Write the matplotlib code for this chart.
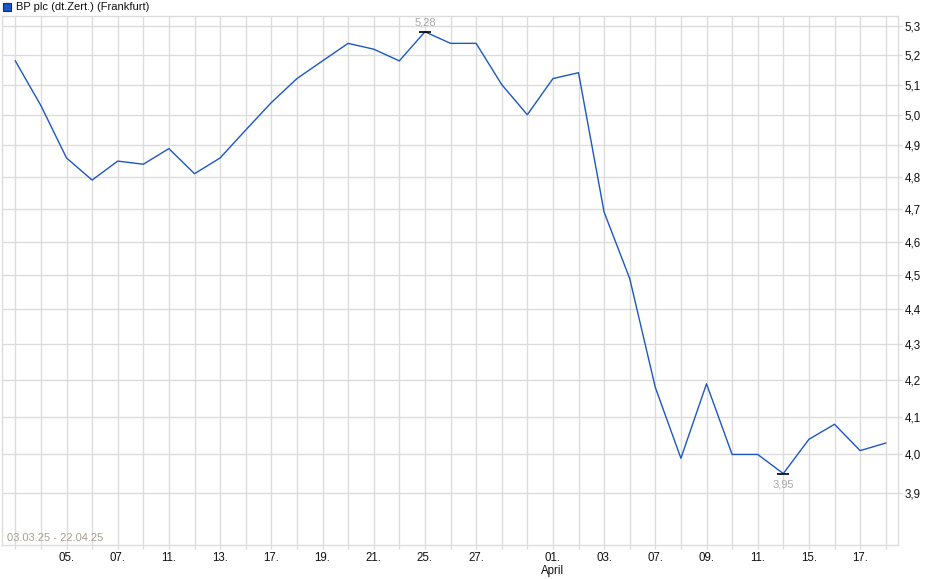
import numpy as np
import matplotlib
matplotlib.use("Agg")
import matplotlib.pyplot as plt
from matplotlib.patches import Rectangle
from matplotlib.ticker import FixedLocator, NullLocator

# trading days 03.03.25 - 22.04.25 (Frankfurt)
dates = ["03.03.", "04.03.", "05.03.", "06.03.", "07.03.", "10.03.", "11.03.",
         "12.03.", "13.03.", "14.03.", "17.03.", "18.03.", "19.03.", "20.03.",
         "21.03.", "24.03.", "25.03.", "26.03.", "27.03.", "28.03.", "31.03.",
         "01.04.", "02.04.", "03.04.", "04.04.", "07.04.", "08.04.", "09.04.",
         "10.04.", "11.04.", "14.04.", "15.04.", "16.04.", "17.04.", "22.04."]
prices = [5.18, 5.03, 4.86, 4.79, 4.85, 4.84, 4.89, 4.81, 4.86, 4.95, 5.04,
          5.12, 5.18, 5.24, 5.22, 5.18, 5.28, 5.24, 5.24, 5.10, 5.00, 5.12,
          5.14, 4.69, 4.49, 4.18, 3.99, 4.19, 4.00, 4.00, 3.95, 4.04, 4.08,
          4.01, 4.03]
labelled = ["05.03.", "07.03.", "11.03.", "13.03.", "17.03.", "19.03.",
            "21.03.", "25.03.", "27.03.", "01.04.", "03.04.", "07.04.",
            "09.04.", "11.04.", "15.04.", "17.04."]
month_start = {"01.04.": "April"}
y_ticks = [3.9, 4.0, 4.1, 4.2, 4.3, 4.4, 4.5, 4.6, 4.7, 4.8, 4.9, 5.0, 5.1, 5.2, 5.3]
title = "BP plc (dt.Zert.) (Frankfurt)"
period = "03.03.25 - 22.04.25"

plt.rcParams["font.family"] = ["Liberation Sans", "DejaVu Sans"]
W, H = 940, 579
grid_c = "#dcdcdc"
line_c = "#1c57c4"

fig = plt.figure(figsize=(W / 100, H / 100), dpi=100)
ax = fig.add_axes([2 / W, (H - 545) / H, 896 / W, 529 / H])

x = np.arange(len(prices))
ax.plot(x, prices, color=line_c, lw=1.0, zorder=3)

# price axis is logarithmic (grid spacing widens towards low values)
ax.set_yscale("log")
ax.set_ylim(3.769, 5.335)
ax.set_xlim(-0.52, len(prices) - 1 + 0.48)

ax.yaxis.set_major_locator(FixedLocator(y_ticks))
ax.yaxis.set_minor_locator(NullLocator())
ax.set_yticklabels([f"{v:.1f}".replace(".", ",") for v in y_ticks])
ax.yaxis.tick_right()


def day_label(d):
    if d not in labelled:
        return ""
    if d in month_start:
        return d[:3] + "\n" + month_start[d]
    return d[:3]


ax.set_xticks(x)
ax.set_xticklabels([day_label(d) for d in dates], linespacing=1.1, va="top")

ax.tick_params(axis="both", colors=grid_c, labelcolor="#111111", labelsize=8.3,
               length=3, width=1)
ax.tick_params(axis="x", pad=2)
ax.tick_params(axis="y", pad=2)
ax.grid(True, which="major", color=grid_c, lw=1)
ax.set_axisbelow(True)
for s in ax.spines.values():
    s.set_color(grid_c)
    s.set_linewidth(1)

# max / min markers
imax = int(np.argmax(prices))
imin = int(np.argmin(prices))
for i, dy, va in [(imax, 3, "bottom"), (imin, -4, "top")]:
    ax.plot(x[i], prices[i], marker="_", ms=9, mew=1.2, color="black", zorder=4)
    ax.annotate(f"{prices[i]:.2f}".replace(".", ","), (x[i], prices[i]),
                xytext=(0, dy), textcoords="offset points", ha="center", va=va,
                fontsize=8, color="#a8a8a8")

ax.text(0.006, 0.004, period, transform=ax.transAxes, fontsize=8,
        color="#aa9f90", ha="left", va="bottom")

# legend header
fig.patches.append(Rectangle((3 / W, 1 - 11 / H), 8 / W, 8 / H,
                             transform=fig.transFigure, facecolor=line_c,
                             edgecolor="#0d2f73", lw=0.8))
fig.text(16 / W, 1 - 7 / H, title, fontsize=8, color="#111111",
         ha="left", va="center")

fig.savefig("out.png", dpi=100)
